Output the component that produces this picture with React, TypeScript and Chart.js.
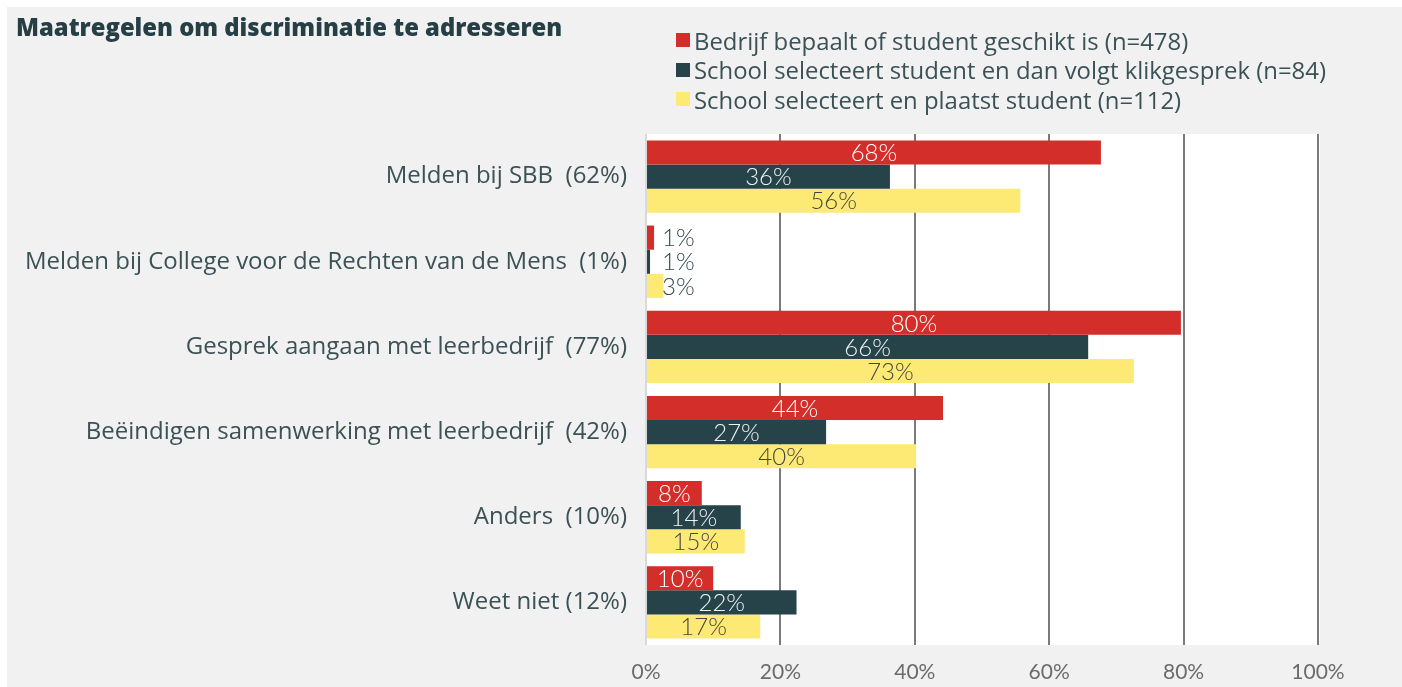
import React, { useEffect, useRef } from "react";
import { Chart, registerables } from "chart.js";

Chart.register(...registerables);

const TITLE = "Maatregelen om discriminatie te adresseren";
const CATEGORIES = [
  "Melden bij SBB  (62%)",
  "Melden bij College voor de Rechten van de Mens  (1%)",
  "Gesprek aangaan met leerbedrijf  (77%)",
  "Beëindigen samenwerking met leerbedrijf  (42%)",
  "Anders  (10%)",
  "Weet niet (12%)",
];
const SERIES_NAMES = [
  "Bedrijf bepaalt of student geschikt is (n=478)",
  "School selecteert student en dan volgt klikgesprek (n=84)",
  "School selecteert en plaatst student (n=112)",
];
const BEDRIJF = [67.7, 1.2, 79.6, 44.2, 8.3, 10.0];
const KLIK = [36.3, 0.6, 65.8, 26.8, 14.1, 22.4];
const PLAATST = [55.7, 2.6, 72.6, 40.2, 14.7, 17.0];
const X_TICKS = [0, 20, 40, 60, 80, 100];

const COLORS = ["#d42e2b", "#26434a", "#fdea74"];
const LABEL_COLORS = ["#ffffff", "#eef2f3", "#454543"];
const TEXT = "#3b5156";
const FONT = "'Open Sans', 'Noto Sans', sans-serif";
const NUM_FONT = "Lato, 'Noto Sans', sans-serif";

const bgPlugin = {
  id: "plotBg",
  beforeDraw(chart: any) {
    const { ctx, chartArea } = chart;
    ctx.save();
    ctx.fillStyle = "#ffffff";
    ctx.fillRect(chartArea.left, chartArea.top, chartArea.right - chartArea.left + 2, chartArea.bottom - chartArea.top);
    ctx.restore();
  },
};

const labelPlugin = {
  id: "barLabels",
  afterDatasetsDraw(chart: any) {
    const { ctx } = chart;
    const xs = chart.scales.x;
    ctx.save();
    ctx.font = `300 24px ${NUM_FONT}`;
    ctx.textBaseline = "middle";
    chart.data.datasets.forEach((ds: any, di: number) => {
      const meta = chart.getDatasetMeta(di);
      meta.data.forEach((el: any, i: number) => {
        const v = ds.data[i];
        const txt = Math.round(v) + "%";
        if (v < 5) {
          ctx.fillStyle = "#2f4a50";
          ctx.textAlign = "left";
          ctx.fillText(txt, xs.getPixelForValue(0) + 16, el.y + 1);
        } else {
          ctx.fillStyle = LABEL_COLORS[di];
          ctx.textAlign = "center";
          ctx.fillText(txt, (el.x + el.base) / 2, el.y + 1);
        }
      });
    });
    ctx.restore();
  },
};

export default function App() {
  const ref = useRef<HTMLCanvasElement>(null);
  useEffect(() => {
    if (!ref.current) return;
    const chart = new Chart(ref.current, {
      type: "bar",
      data: {
        labels: CATEGORIES,
        datasets: [BEDRIJF, KLIK, PLAATST].map((d, i) => ({
          label: SERIES_NAMES[i],
          data: d,
          backgroundColor: COLORS[i],
          borderWidth: 0,
          barPercentage: 1,
          categoryPercentage: 0.85,
        })),
      },
      options: {
        indexAxis: "y",
        animation: false,
        responsive: false,
        layout: { padding: { top: 134, right: 84, bottom: 0, left: 0 } },
        plugins: { legend: { display: false }, tooltip: { enabled: false } },
        scales: {
          x: {
            min: 0,
            max: 100,
            afterBuildTicks: (axis: any) => {
              axis.ticks = X_TICKS.map((v) => ({ value: v }));
            },
            afterFit: (axis: any) => {
              axis.height = 42;
            },
            border: { display: false },
            grid: {
              color: (c: any) => (c.tick && c.tick.value === 0 ? "#d9d9d9" : "#7a7a7a"),
              lineWidth: 2,
              drawTicks: false,
            },
            ticks: {
              padding: 15,
              color: "#6b6b6b",
              font: { family: NUM_FONT, size: 21, weight: "normal" },
              callback: (v: any) => v + "%",
            },
          },
          y: {
            afterFit: (axis: any) => {
              axis.width = 646;
            },
            border: { display: false },
            grid: { display: false, drawTicks: false },
            ticks: {
              padding: 19,
              color: TEXT,
              font: { family: FONT, size: 24 },
            },
          },
        },
      },
      plugins: [bgPlugin, labelPlugin],
    });
    return () => chart.destroy();
  }, []);

  return (
    <div
      style={{
        position: "fixed",
        left: 7,
        top: 7,
        right: 0,
        bottom: 0,
        background: "#f1f1f1",
        overflow: "hidden",
        fontFamily: FONT,
      }}
    >
      <canvas ref={ref} width={1402} height={687} style={{ position: "absolute", left: -7, top: -7 }} />
      <div
        style={{
          position: "absolute",
          left: 9,
          top: 4,
          fontSize: 23.8,
          fontWeight: 800,
          color: "#263f45",
          whiteSpace: "nowrap",
        }}
      >
        {TITLE}
      </div>
      {SERIES_NAMES.map((n, i) => (
        <div
          key={n}
          style={{
            position: "absolute",
            left: 669,
            top: 18 + i * 29.5,
            height: 30,
            display: "flex",
            alignItems: "center",
            fontSize: 23.9,
            color: TEXT,
            whiteSpace: "nowrap",
          }}
        >
          <span style={{ display: "inline-block", width: 14, height: 14, background: COLORS[i], marginRight: 4 }} />
          {n}
        </div>
      ))}
    </div>
  );
}
